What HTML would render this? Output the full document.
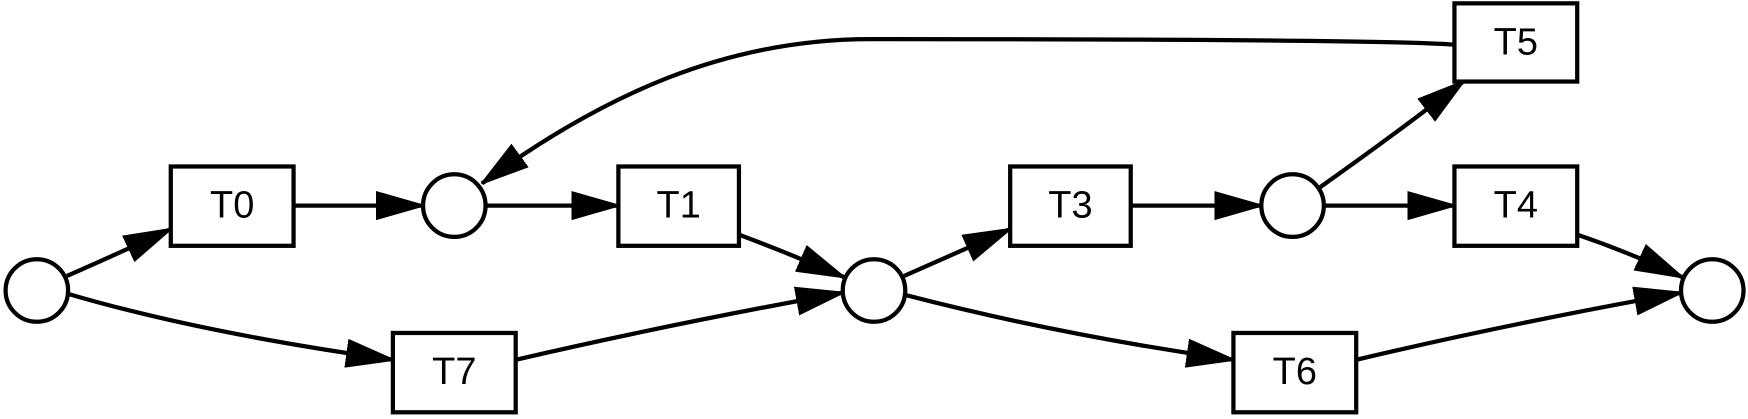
<!DOCTYPE html>
<html><head><meta charset="utf-8"><style>
html,body{margin:0;padding:0;background:#fff;width:1748px;height:419px;overflow:hidden}
svg{display:block}
text{font-family:"Liberation Sans",sans-serif;font-size:34px;text-anchor:middle;dominant-baseline:central}
</style></head><body>
<svg width="1748" height="419" viewBox="0 0 1566 375" preserveAspectRatio="none">
<defs>
<marker id="a" markerUnits="userSpaceOnUse" markerWidth="44" markerHeight="26" refX="42" refY="13" orient="auto">
<path d="M0,1 L42,13 L0,25 Z" fill="#000" stroke="#000" stroke-width="2" stroke-linejoin="round"/>
</marker>
</defs>
<g fill="none" stroke="#000" stroke-width="3.8" marker-end="url(#a)">
<path d="M60,247 Q110,225 153,205"/>
<path d="M263,184 L379,184"/>
<path d="M435,184 L554,184"/>
<path d="M662,210 Q710,228 756,248"/>
<path d="M810,247 Q860,225 905,205"/>
<path d="M1013,184 L1130,184"/>
<path d="M1186,184 L1303,184"/>
<path d="M1182,168 Q1250,120 1311,73"/>
<path d="M1303,40 C1250,36 1000,35 780,35 C650,35 540,85 432,164"/>
<path d="M1413,210 Q1460,226 1507,248"/>
<path d="M61,263 Q180,298 352,322"/>
<path d="M462,322 Q600,290 755,262"/>
<path d="M811,264 Q950,300 1105,322"/>
<path d="M1215,322 Q1350,290 1506,262"/>
</g>
<g fill="#fff" stroke="#000" stroke-width="3.8">
<circle cx="33" cy="260" r="28"/>
<circle cx="407" cy="184" r="28"/>
<circle cx="783" cy="260" r="28"/>
<circle cx="1158" cy="184" r="28"/>
<circle cx="1534" cy="260" r="28"/>
<rect x="153" y="149" width="110" height="71"/>
<rect x="554" y="149" width="108" height="71"/>
<rect x="905" y="149" width="108" height="71"/>
<rect x="1303" y="149" width="110" height="71"/>
<rect x="1303" y="3" width="110" height="70"/>
<rect x="352" y="298" width="110" height="71"/>
<rect x="1105" y="298" width="110" height="71"/>
</g>
<text x="208" y="184">T0</text>
<text x="608" y="184">T1</text>
<text x="959" y="184">T3</text>
<text x="1358" y="184">T4</text>
<text x="1358" y="38">T5</text>
<text x="407" y="333">T7</text>
<text x="1160" y="333">T6</text>
</svg>
</body></html>
